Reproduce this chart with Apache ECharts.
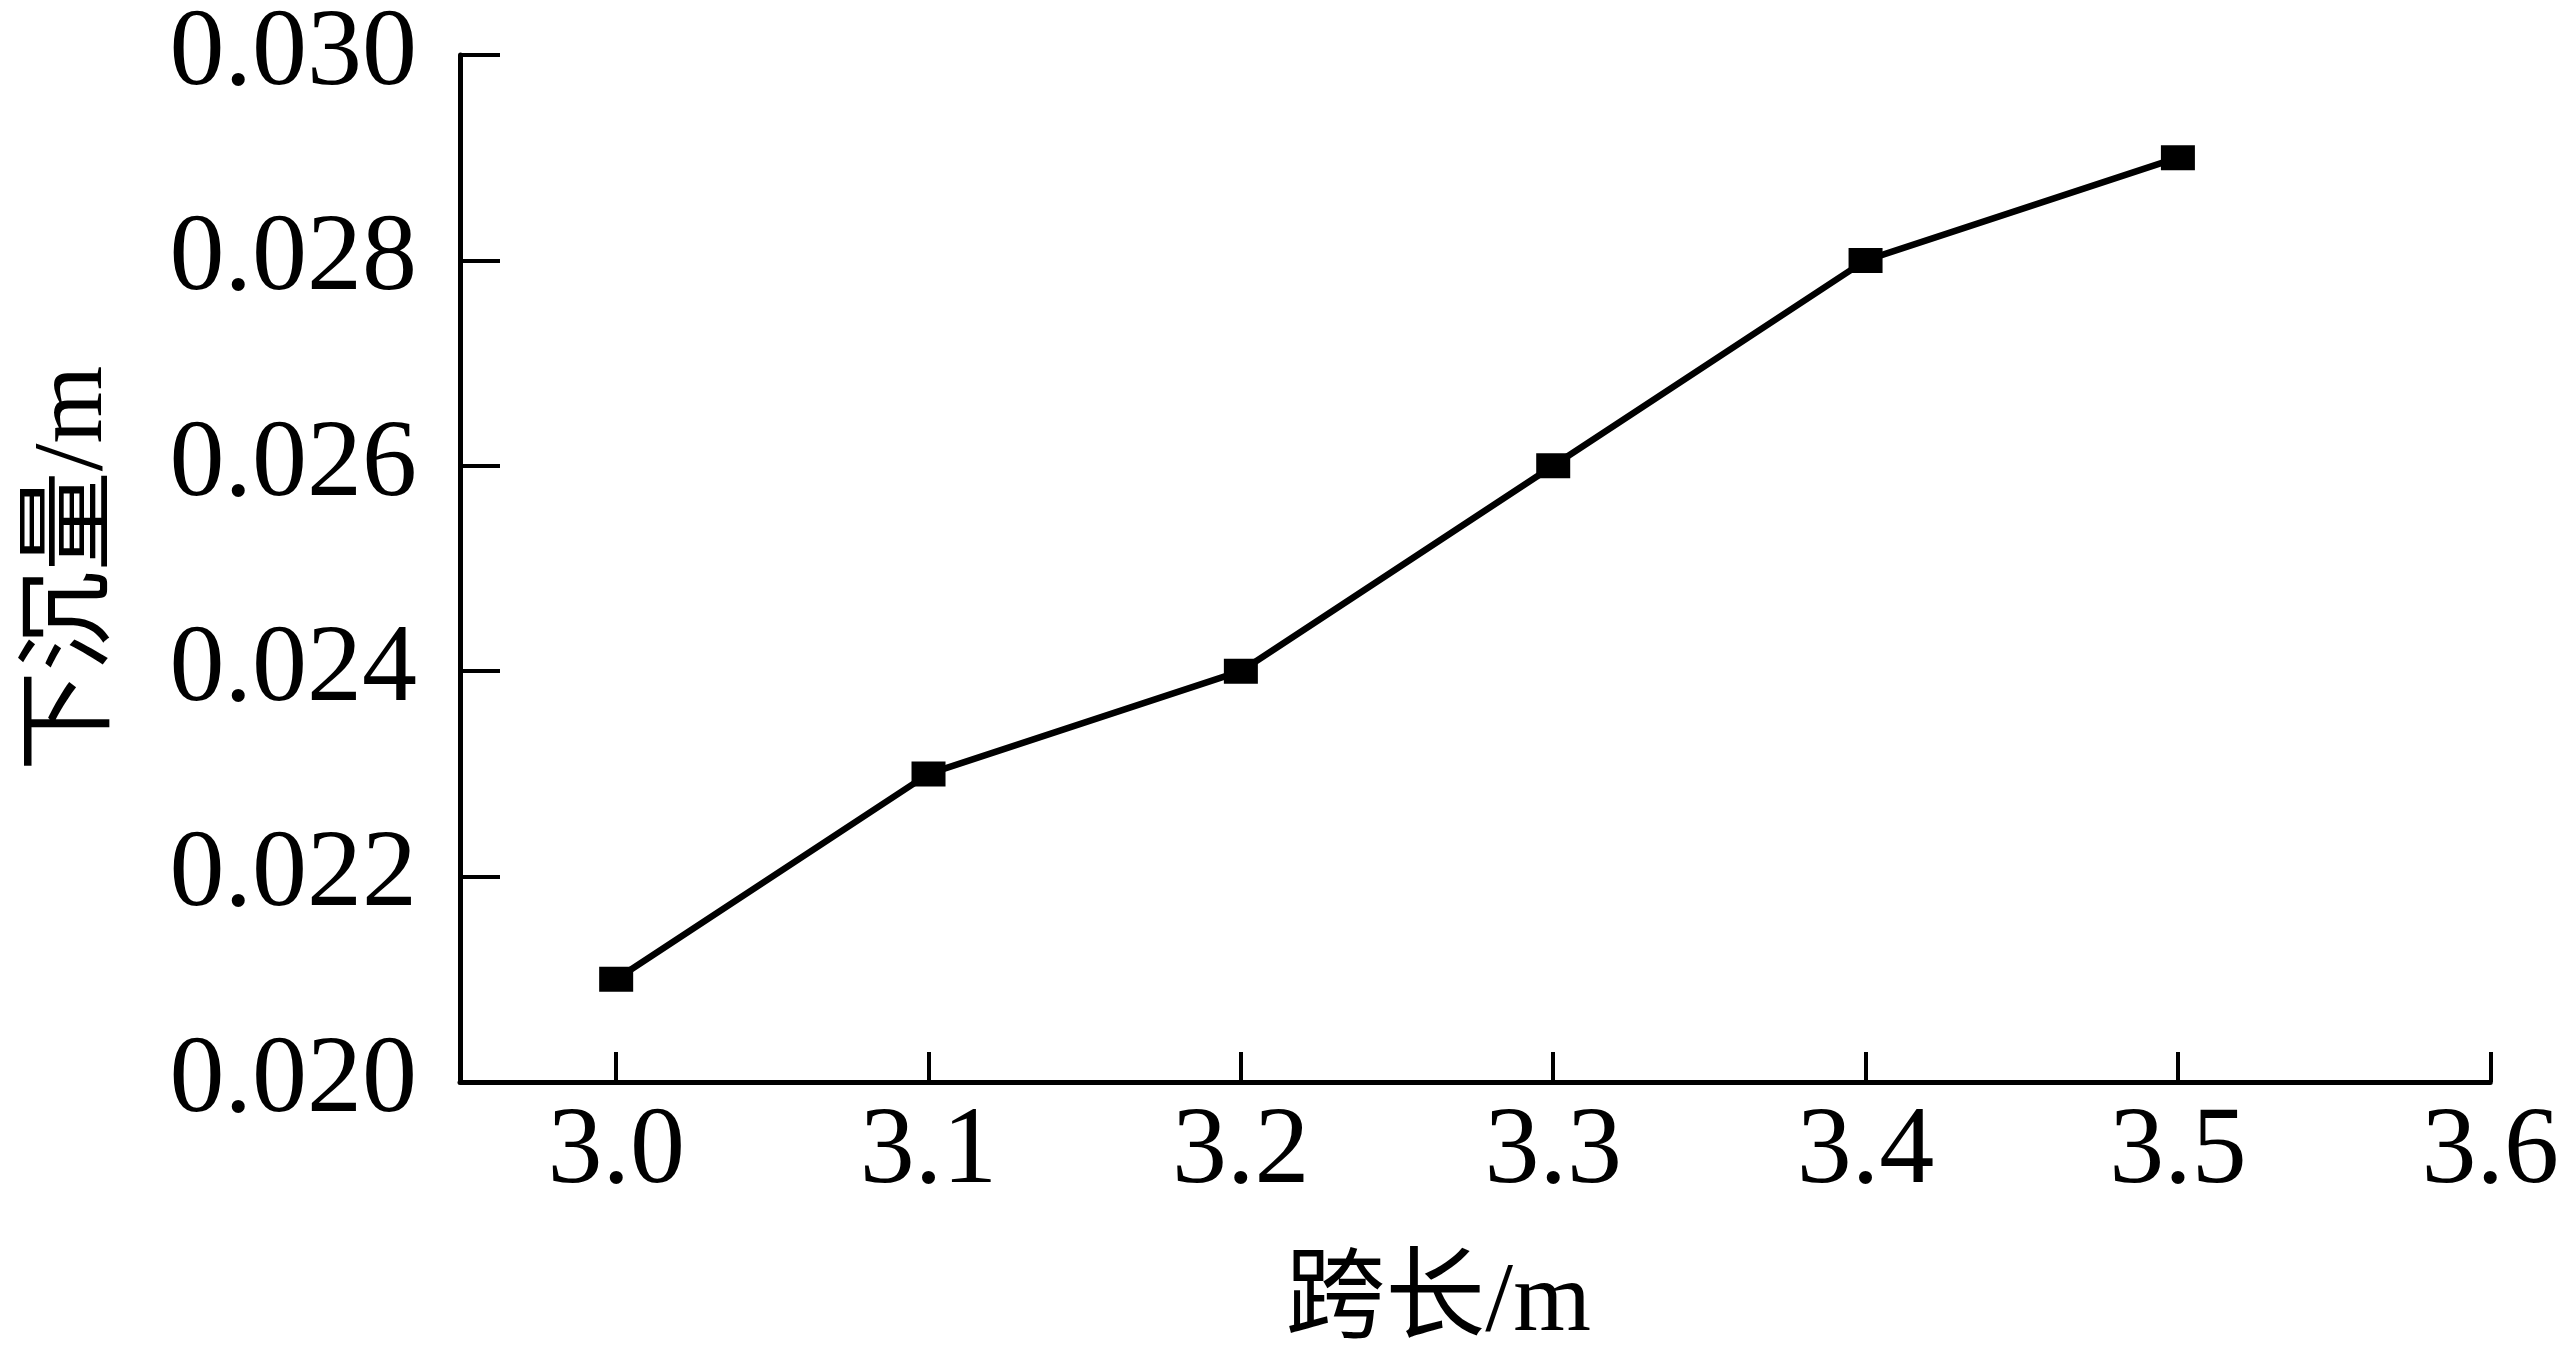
<!DOCTYPE html>
<html>
<head>
<meta charset="utf-8">
<script src="https://cdn.jsdelivr.net/npm/echarts@6/dist/echarts.min.js"></script>
<style>
html,body{margin:0;padding:0;background:#fff;}
#chart{width:2562px;height:1371px;}
</style>
</head>
<body>
<div id="chart"></div>
<script>
var spans = [3.0, 3.1, 3.2, 3.3, 3.4, 3.5];
var settlement = [0.021, 0.023, 0.024, 0.026, 0.028, 0.029];
var xTicks = [3.0, 3.1, 3.2, 3.3, 3.4, 3.5, 3.6];
var yTicks = [0.020, 0.022, 0.024, 0.026, 0.028, 0.030];
var xName = '跨长/m';
var yName = '下沉量/m';

var fontFam = '"Liberation Serif", "Times New Roman", "Noto Sans CJK SC", serif';
var chart = echarts.init(document.getElementById('chart'));
var pts = spans.map(function (s, i) { return [s, settlement[i]]; });

chart.setOption({
  animation: false,
  backgroundColor: '#ffffff',
  grid: { left: 460, right: 67, top: 51, bottom: 289, containLabel: false },
  xAxis: {
    type: 'value',
    min: 2.95,
    max: 3.6,
    name: xName,
    nameLocation: 'middle',
    nameGap: 172,
    nameTextStyle: { fontFamily: fontFam, fontSize: 100, color: '#000', padding: [0, 74, 0, 0] },
    axisLine: { show: true, onZero: false, lineStyle: { color: '#000', width: 5 } },
    axisTick: { show: true, inside: true, length: 30, lineStyle: { color: '#000', width: 4 }, customValues: xTicks },
    axisLabel: {
      margin: 16, fontFamily: fontFam, fontSize: 110, color: '#000',
      customValues: xTicks,
      formatter: function (v) { return v.toFixed(1); }
    },
    splitLine: { show: false }
  },
  yAxis: {
    type: 'value',
    min: yTicks[0],
    max: yTicks[yTicks.length - 1],
    interval: 0.002,
    name: yName,
    nameLocation: 'middle',
    nameGap: 335,
    nameRotate: 90,
    nameTextStyle: { fontFamily: fontFam, fontSize: 100, color: '#000' },
    axisLine: { show: true, onZero: false, lineStyle: { color: '#000', width: 5 } },
    axisTick: { show: true, inside: true, length: 40, lineStyle: { color: '#000', width: 4 } },
    axisLabel: {
      margin: 43, fontFamily: fontFam, fontSize: 110, color: '#000',
      formatter: function (v) { return v.toFixed(3); }
    },
    splitLine: { show: false }
  },
  series: [{
    type: 'line',
    data: pts,
    symbol: 'rect',
    symbolSize: [34, 25],
    lineStyle: { color: '#000', width: 6.5 },
    itemStyle: { color: '#000' },
    clip: false
  }]
});
</script>
</body>
</html>
